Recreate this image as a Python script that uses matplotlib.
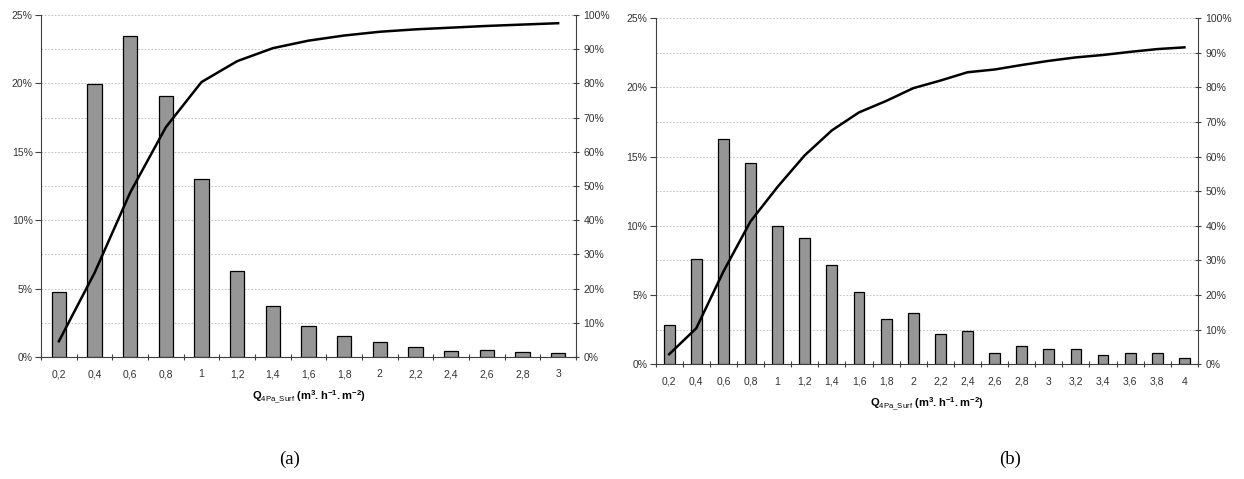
import numpy as np
import matplotlib
matplotlib.use("Agg")
import matplotlib.pyplot as plt
from matplotlib.ticker import FuncFormatter, MultipleLocator

plt.rcParams['font.family'] = ['Liberation Sans', 'DejaVu Sans']
plt.rcParams['mathtext.fontset'] = 'custom'
plt.rcParams['mathtext.rm'] = 'Liberation Sans'
plt.rcParams['mathtext.bf'] = 'Liberation Sans:bold'

# (a) distribution and cumulative share (%)
labels_a = ['0,2', '0,4', '0,6', '0,8', '1', '1,2', '1,4', '1,6', '1,8', '2',
            '2,2', '2,4', '2,6', '2,8', '3']
freq_a = [4.75, 19.95, 23.45, 19.05, 13.0, 6.25, 3.7, 2.3, 1.5, 1.1,
          0.75, 0.45, 0.5, 0.4, 0.28]
cum_a = [4.6, 24.6, 48.1, 67.2, 80.4, 86.5, 90.3, 92.5, 94.0, 95.1,
         95.8, 96.3, 96.8, 97.2, 97.6]

# (b)
labels_b = ['0,2', '0,4', '0,6', '0,8', '1', '1,2', '1,4', '1,6', '1,8', '2',
            '2,2', '2,4', '2,6', '2,8', '3', '3,2', '3,4', '3,6', '3,8', '4']
freq_b = [2.85, 7.6, 16.3, 14.55, 10.0, 9.1, 7.15, 5.2, 3.25, 3.7,
          2.2, 2.4, 0.85, 1.3, 1.1, 1.1, 0.7, 0.85, 0.85, 0.45]
cum_b = [2.9, 10.4, 26.8, 41.3, 51.3, 60.4, 67.6, 72.8, 76.1, 79.8,
         82.0, 84.4, 85.2, 86.5, 87.7, 88.7, 89.4, 90.3, 91.1, 91.6]

xlabel = r'$\mathbf{Q}_{\mathrm{4Pa\_Surf}}$ $\mathbf{(m^{3}.h^{-1}.m^{-2})}$'
pct = FuncFormatter(lambda v, p: '%d%%' % round(v))

fig = plt.figure(figsize=(12.44, 4.79), dpi=100)


def draw(rect, labels, freq, cum):
    ax = fig.add_axes(rect)
    x = np.arange(len(labels))
    ax.bar(x, freq, width=0.4, color='#969696', edgecolor='black', linewidth=0.9, zorder=3)
    ax.set_xlim(-0.5, len(labels) - 0.5)
    ax.set_ylim(0, 25)
    ax.yaxis.set_major_locator(MultipleLocator(5))
    ax.yaxis.set_minor_locator(MultipleLocator(2.5))
    ax.yaxis.set_major_formatter(pct)
    ax.grid(axis='y', which='both', linestyle=(0, (2, 2)), color='#b8b8b8', linewidth=0.6, zorder=0)
    ax.set_axisbelow(True)
    # ticks at category boundaries, labels at centres
    ax.set_xticks(np.arange(len(labels) + 1) - 0.5)
    ax.set_xticklabels([])
    ax.set_xticks(x, minor=True)
    ax.set_xticklabels(labels, minor=True)
    ax.tick_params(axis='x', which='major', length=5, direction='inout', color='#404040')
    ax.tick_params(axis='x', which='minor', length=0, pad=9, labelsize=7.5, labelcolor='#333333')
    ax.tick_params(axis='y', which='major', length=4, direction='out', labelsize=7.5,
                   labelcolor='#333333', color='#404040', pad=2)
    ax.tick_params(axis='y', which='minor', length=0)
    for s in ['top', 'right']:
        ax.spines[s].set_visible(False)
    for s in ['left', 'bottom']:
        ax.spines[s].set_color('#404040')
    ax.set_xlabel(xlabel, fontsize=8, labelpad=6)

    ax2 = ax.twinx()
    ax2.plot(x, cum, color='black', linewidth=1.8, zorder=4)
    ax2.set_ylim(0, 100)
    ax2.yaxis.set_major_locator(MultipleLocator(10))
    ax2.yaxis.set_major_formatter(pct)
    ax2.tick_params(axis='y', length=5, direction='inout', labelsize=7.5,
                    labelcolor='#333333', color='#404040', pad=3)
    for s in ['top', 'left', 'bottom']:
        ax2.spines[s].set_visible(False)
    ax2.spines['right'].set_color('#404040')
    return ax


draw([0.033, 0.2547, 0.430, 0.714], labels_a, freq_a, cum_a)
draw([0.527, 0.2395, 0.436, 0.7223], labels_b, freq_b, cum_b)

fig.text(0.233, 0.032, '(a)', fontsize=13.5, family='Liberation Serif', ha='center')
fig.text(0.812, 0.032, '(b)', fontsize=13.5, family='Liberation Serif', ha='center')

fig.savefig('out.png', dpi=100)
